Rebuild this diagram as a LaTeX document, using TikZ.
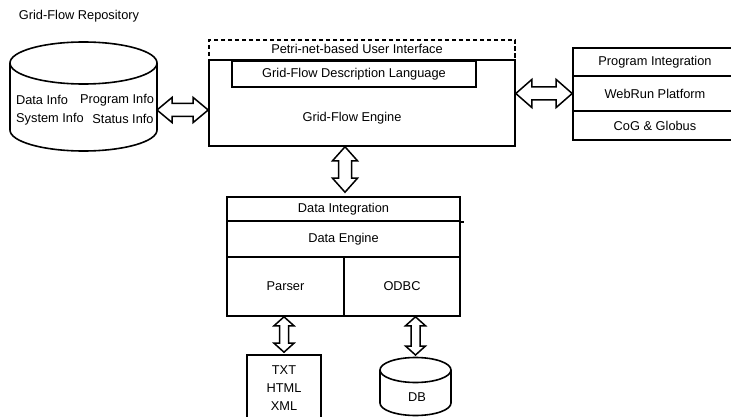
\documentclass[tikz,border=0pt]{standalone}
\usepackage{fontspec}
\setmainfont{Liberation Sans}
\usetikzlibrary{calc}

% hollow double-headed arrows: tip, tip, head length, head half-width, shaft half-width
\newcommand{\dblH}[5]{%
  \draw[dblarrow] (#1) -- ($(#1)+(#3,-#4)$) -- ($(#1)+(#3,-#5)$) -- ($(#2)+(-#3,-#5)$)
    -- ($(#2)+(-#3,-#4)$) -- (#2) -- ($(#2)+(-#3,#4)$) -- ($(#2)+(-#3,#5)$)
    -- ($(#1)+(#3,#5)$) -- ($(#1)+(#3,#4)$) -- cycle;}
\newcommand{\dblV}[5]{%
  \draw[dblarrow] (#1) -- ($(#1)+(#4,#3)$) -- ($(#1)+(#5,#3)$) -- ($(#2)+(#5,-#3)$)
    -- ($(#2)+(#4,-#3)$) -- (#2) -- ($(#2)+(-#4,-#3)$) -- ($(#2)+(-#5,-#3)$)
    -- ($(#1)+(-#5,#3)$) -- ($(#1)+(-#4,#3)$) -- cycle;}

\begin{document}
\begin{tikzpicture}[x=1pt,y=-1pt,
  lbl/.style={font=\fontsize{12.8}{15}\selectfont, inner sep=0pt},
  bx/.style={draw, line width=1.6pt, inner sep=0pt, font=\fontsize{12.8}{15}\selectfont},
  dblarrow/.style={draw, line width=1.5pt, fill=white, line join=miter},
  cyl/.style={draw, line width=1.6pt}]
\useasboundingbox (0,0) rectangle (731,417);
\clip (0,0) rectangle (731,417);

% repository cylinder
\node[lbl] (repotitle) at (79,16) {Grid-Flow Repository};
\draw[cyl] (83.5,63) ellipse[x radius=73.5pt, y radius=21pt];
\draw[cyl] (10,63) -- (10,130) arc[start angle=180, end angle=360, x radius=73.5pt, y radius=21pt] -- (157,63);
\node[lbl] (dinfo) at (42,100) {Data Info};
\node[lbl] (pinfo) at (117,100) {Program Info};
\node[lbl] (sinfo) at (50,119) {System Info};
\node[lbl] (stinfo) at (123,119) {Status Info};
\coordinate (repoR) at (157,110);

% engine with its user interface and language layers
\node[bx, dashed, dash pattern=on 4.5pt off 2.5pt, minimum width=306pt, minimum height=20pt] (ui) at (362,50) {};
\node[lbl] (uitext) at (357,49) {Petri-net-based User Interface};
\node[bx, minimum width=306pt, minimum height=86pt] (engine) at (362,103) {};
\node[bx, minimum width=244pt, minimum height=26pt] (desc) at (354,74) {Grid-Flow Description Language};
\node[lbl] (enginetext) at (352,118) {Grid-Flow Engine};

% platform stack
\node[bx, minimum width=164pt, minimum height=28pt] (prog) at (655,62) {Program Integration};
\node[bx, minimum width=164pt, minimum height=35pt] (web) at (655,93.5) {WebRun Platform};
\node[bx, minimum width=164pt, minimum height=29pt] (cog) at (655,125.5) {CoG \& Globus};

% data layer
\node[bx, minimum width=233pt, minimum height=24pt] (dataint) at (343.5,209) {Data Integration};
\node[bx, minimum width=233pt, minimum height=36pt] (dataeng) at (343.5,239) {Data Engine};
\node[bx, minimum width=117pt, minimum height=59pt] (parser) at (285.5,286.5) {Parser};
\node[bx, minimum width=116pt, minimum height=59pt] (odbc) at (402,286.5) {ODBC};
\draw[line width=1.6pt] (dataint.south east) -- ++(3,0);

% sources
\node[bx, minimum width=74pt, minimum height=66pt, align=center,
      font=\fontsize{12.8}{18}\selectfont] (txt) at (284,388) {TXT\\HTML\\XML};
\draw[cyl] (415.5,370) ellipse[x radius=35.5pt, y radius=12.5pt];
\draw[cyl] (380,370) -- (380,403) arc[start angle=180, end angle=360, x radius=35.5pt, y radius=12.5pt] -- (451,370);
\node[lbl] (dbtext) at (417,397) {DB};
\coordinate (dbTop) at (415.5,357);

% connectors
\dblH{repoR}{engine.west |- repoR}{15}{12.5}{6.5}
\coordinate (engR) at (engine.east |- web);
\dblH{engR}{web.west}{16}{14}{6.5}
\coordinate (vx) at (345,0);
\coordinate (eB) at (engine.south -| vx);
\coordinate (dT) at ($(dataint.north -| vx)+(0,-4)$);
\dblV{eB}{dT}{14}{12.5}{6.5}
\coordinate (pB) at (parser.south -| txt.north);
\coordinate (tT) at ($(txt.north)+(0,-2)$);
\dblV{pB}{tT}{9}{10}{4.5}
\coordinate (oB) at (odbc.south -| dbTop);
\coordinate (dbT) at ($(dbTop)+(0,-2)$);
\dblV{oB}{dbT}{9}{10}{4.5}
\end{tikzpicture}
\end{document}
